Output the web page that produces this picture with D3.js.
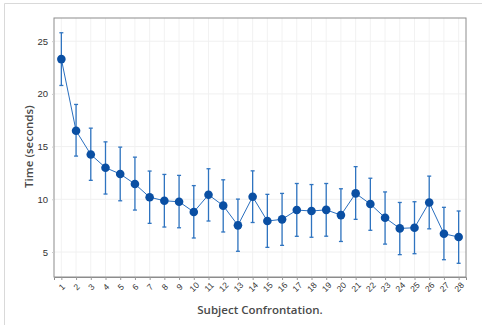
<!DOCTYPE html>
<html>
<head>
<meta charset="utf-8">
<script src="https://cdn.jsdelivr.net/npm/d3@7"></script>
<style>
  body { margin: 0; background: #fff; }
  svg { font-family: "Open Sans", sans-serif; }
</style>
</head>
<body>
<div id="chart"></div>
<script>
const subjects = d3.range(1, 29).map(String);
const meanTime = [23.3, 16.5, 14.25, 13.0, 12.4, 11.45, 10.2, 9.86, 9.77, 8.8, 10.43, 9.4, 7.53, 10.24,
    7.94, 8.1, 8.98, 8.89, 9.0, 8.5, 10.56, 9.55, 8.25, 7.24, 7.3, 9.7, 6.73, 6.42];
const upperTime = [25.8, 19.0, 16.75, 15.45, 14.95, 14.0, 12.68, 12.36, 12.27, 11.3, 12.9, 11.85, 10.02, 12.7,
    10.47, 10.56, 11.5, 11.4, 11.5, 11.0, 13.1, 12.0, 10.7, 9.7, 9.77, 12.2, 9.24, 8.89];
const lowerTime = [20.8, 14.1, 11.8, 10.5, 9.86, 8.98, 7.72, 7.37, 7.3, 6.33, 7.94, 6.9, 5.07, 7.8,
    5.44, 5.63, 6.49, 6.4, 6.5, 6.0, 8.1, 7.06, 5.75, 4.75, 4.84, 7.2, 4.27, 3.93];
const yTicks = [5, 10, 15, 20, 25];

const data = subjects.map((s, i) => ({s: s, m: meanTime[i], hi: upperTime[i], lo: lowerTime[i]}));

const W = 482, H = 325;
const margin = {top: 18, right: 16, bottom: 48, left: 54};
const width = W - margin.left - margin.right,
    height = H - margin.top - margin.bottom;

const root = d3.select("#chart").append("svg")
    .attr("width", W)
    .attr("height", H);

// outer frame
root.append("path")
    .attr("d", "M4.5,330V3.5H482")
    .attr("fill", "none")
    .attr("stroke", "#d9d9d9");

const svg = root.append("g")
    .attr("transform", `translate(${margin.left},${margin.top})`);

const x = d3.scalePoint()
    .domain(subjects)
    .range([0, width])
    .padding(0.5);

const y = d3.scaleLinear()
    .domain([2.63, 27.2])
    .range([height, 0]);

// grid
svg.append("g")
    .selectAll("line.vg")
    .data(subjects)
    .enter().append("line")
    .attr("x1", d => x(d)).attr("x2", d => x(d))
    .attr("y1", 0).attr("y2", height)
    .attr("stroke", "#f2f2f2");

svg.append("g")
    .selectAll("line.hg")
    .data(yTicks)
    .enter().append("line")
    .attr("x1", 0).attr("x2", width)
    .attr("y1", d => y(d)).attr("y2", d => y(d))
    .attr("stroke", "#f0f0f0");

// plot frame
svg.append("rect")
    .attr("width", width)
    .attr("height", height)
    .attr("fill", "none")
    .attr("stroke", "#8c8c8c");

const xAxis = svg.append("g")
    .attr("transform", `translate(0,${height})`)
    .call(d3.axisBottom(x).tickSize(3).tickPadding(3));
xAxis.select(".domain").attr("stroke", "#8c8c8c");
xAxis.selectAll(".tick line").attr("stroke", "#999");
xAxis.selectAll(".tick text")
    .attr("font-size", 8.5)
    .attr("fill", "#333")
    .attr("text-anchor", "middle")
    .attr("y", 0)
    .attr("dy", "0.35em")
    .attr("transform", "translate(0,10) rotate(-45)");

const yAxis = svg.append("g")
    .call(d3.axisLeft(y).tickValues(yTicks).tickSize(2).tickPadding(4));
yAxis.select(".domain").remove();
yAxis.selectAll(".tick line").attr("stroke", "#ccc");
yAxis.selectAll(".tick text")
    .attr("font-size", 9.5)
    .attr("fill", "#333");

// error bars
const bars = svg.append("g")
    .selectAll("g.err")
    .data(data)
    .enter().append("g")
    .attr("stroke", "#2f74c0")
    .attr("stroke-width", 1.3);

bars.append("line")
    .attr("x1", d => x(d.s)).attr("x2", d => x(d.s))
    .attr("y1", d => y(d.hi)).attr("y2", d => y(d.lo));
bars.append("line")
    .attr("x1", d => x(d.s) - 2).attr("x2", d => x(d.s) + 2)
    .attr("y1", d => y(d.hi)).attr("y2", d => y(d.hi));
bars.append("line")
    .attr("x1", d => x(d.s) - 2).attr("x2", d => x(d.s) + 2)
    .attr("y1", d => y(d.lo)).attr("y2", d => y(d.lo));

// line
svg.append("path")
    .datum(data)
    .attr("fill", "none")
    .attr("stroke", "#2a6fbf")
    .attr("stroke-width", 1)
    .attr("d", d3.line().x(d => x(d.s)).y(d => y(d.m)));

// points
svg.append("g")
    .selectAll("circle")
    .data(data)
    .enter().append("circle")
    .attr("cx", d => x(d.s))
    .attr("cy", d => y(d.m))
    .attr("r", 4.3)
    .attr("fill", "#0a4fa3");

// axis titles
svg.append("text")
    .attr("x", width / 2)
    .attr("y", height + 37)
    .attr("text-anchor", "middle")
    .attr("font-size", 11.5)
    .attr("font-weight", 600)
    .attr("fill", "#4a4a4a")
    .text("Subject Confrontation.");

svg.append("text")
    .attr("transform", "rotate(-90)")
    .attr("x", -y(15))
    .attr("y", -21)
    .attr("text-anchor", "middle")
    .attr("font-size", 11.5)
    .attr("font-weight", 600)
    .attr("fill", "#4a4a4a")
    .text("Time (seconds)");
</script>
</body>
</html>
